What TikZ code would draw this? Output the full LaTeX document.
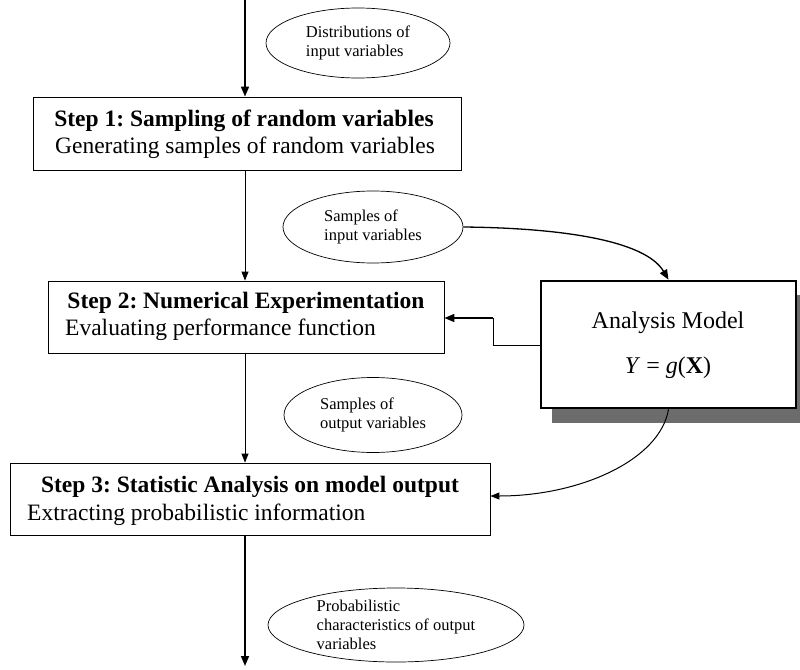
\documentclass[tikz,border=0pt]{standalone}
\usepackage{fontspec}
\setmainfont{Liberation Serif}
\usetikzlibrary{arrows.meta,shapes.geometric}
\frenchspacing
\begin{document}
\begin{tikzpicture}[x=1pt,y=-1pt,
  stepbox/.style={draw,line width=0.8pt,inner sep=0pt},
  steptitle/.style={font=\fontsize{23.5}{27}\selectfont\bfseries,inner sep=0pt},
  steptext/.style={font=\fontsize{23.5}{27}\selectfont,inner sep=0pt},
  bubble/.style={draw,ellipse,line width=0.7pt,inner sep=0pt,align=left,font=\fontsize{16.5}{19}\selectfont},
  thin arrow/.style={line width=0.8pt,-{Triangle[length=9pt,width=7pt]}},
  thick arrow/.style={line width=1.6pt,-{Triangle[length=10pt,width=8pt]}}
]
\useasboundingbox (0,0) rectangle (800,669);
\coordinate (top) at (245,0);
\coordinate (bottom) at (245,666);

% Step 1
\node[stepbox,minimum width=428pt,minimum height=73pt] (s1) at (247,133.5) {};
\node[steptitle] (s1a) at (244,121) {Step 1: Sampling of random variables};
\node[steptext] (s1b) at (245,148) {Generating samples of random variables};

% Step 2
\node[stepbox,minimum width=396pt,minimum height=72pt] (s2) at (246,317) {};
\node[steptitle] (s2a) at (246,303) {Step 2: Numerical Experimentation};
\node[steptext,anchor=west] (s2b) at (65,330) {Evaluating performance function};

% Step 3
\node[stepbox,minimum width=480pt,minimum height=72pt] (s3) at (250,499) {};
\node[steptitle] (s3a) at (250,487) {Step 3: Statistic Analysis on model output};
\node[steptext,anchor=west] (s3b) at (27,515) {Extracting probabilistic information};

% Analysis model with shadow
\fill[gray!85!black] (552,295) rectangle (800,423);
\node[draw,line width=2.6pt,fill=white,minimum width=255pt,minimum height=127pt,inner sep=0pt] (am) at (668.5,344.5) {};
\node[font=\fontsize{24}{28}\selectfont,inner sep=0pt] (ama) at (668,323) {Analysis Model};
\node[font=\fontsize{24}{28}\selectfont,inner sep=0pt] (amb) at (668,368) {\textit{Y} = \textit{g}(\textbf{X})};

% Ellipses
\node[bubble,minimum width=184pt,minimum height=70pt] (e1) at (358,43) {Distributions of\\input variables};
\node[bubble,minimum width=180pt,minimum height=72pt] (e2) at (373,227) {Samples of\\input variables};
\node[bubble,minimum width=178pt,minimum height=75pt] (e3) at (373,415) {Samples of\\output variables};
\node[bubble,minimum width=256pt,minimum height=74pt] (e4) at (396,625) {Probabilistic\\characteristics of output\\variables};

% Vertical flow
\draw[thick arrow] (top) -- (s1.north -| top);
\draw[thin arrow] (s1.south -| top) -- (s2.north -| top);
\draw[thin arrow] (s2.south -| top) -- (s3.north -| top);
\draw[thick arrow] (s3.south -| top) -- (bottom);

% Model feedback to Step 2
\coordinate (k1) at (493,345);
\coordinate (k2) at (493,318);
\draw[line width=0.8pt] (am.west |- k1) -- (k1) -- (k2);
\draw[thick arrow] (k2) -- (s2.east |- k2);

% Samples of input to model
\draw[thick arrow,line width=1.3pt] (e2.east) .. controls (560,228) and (645,240) .. (am.north);
% Model to Step 3
\draw[thin arrow,line width=1pt] (am.south) .. controls (660,460) and (580,496) .. (s3.east |- 0,496);
\end{tikzpicture}
\end{document}
